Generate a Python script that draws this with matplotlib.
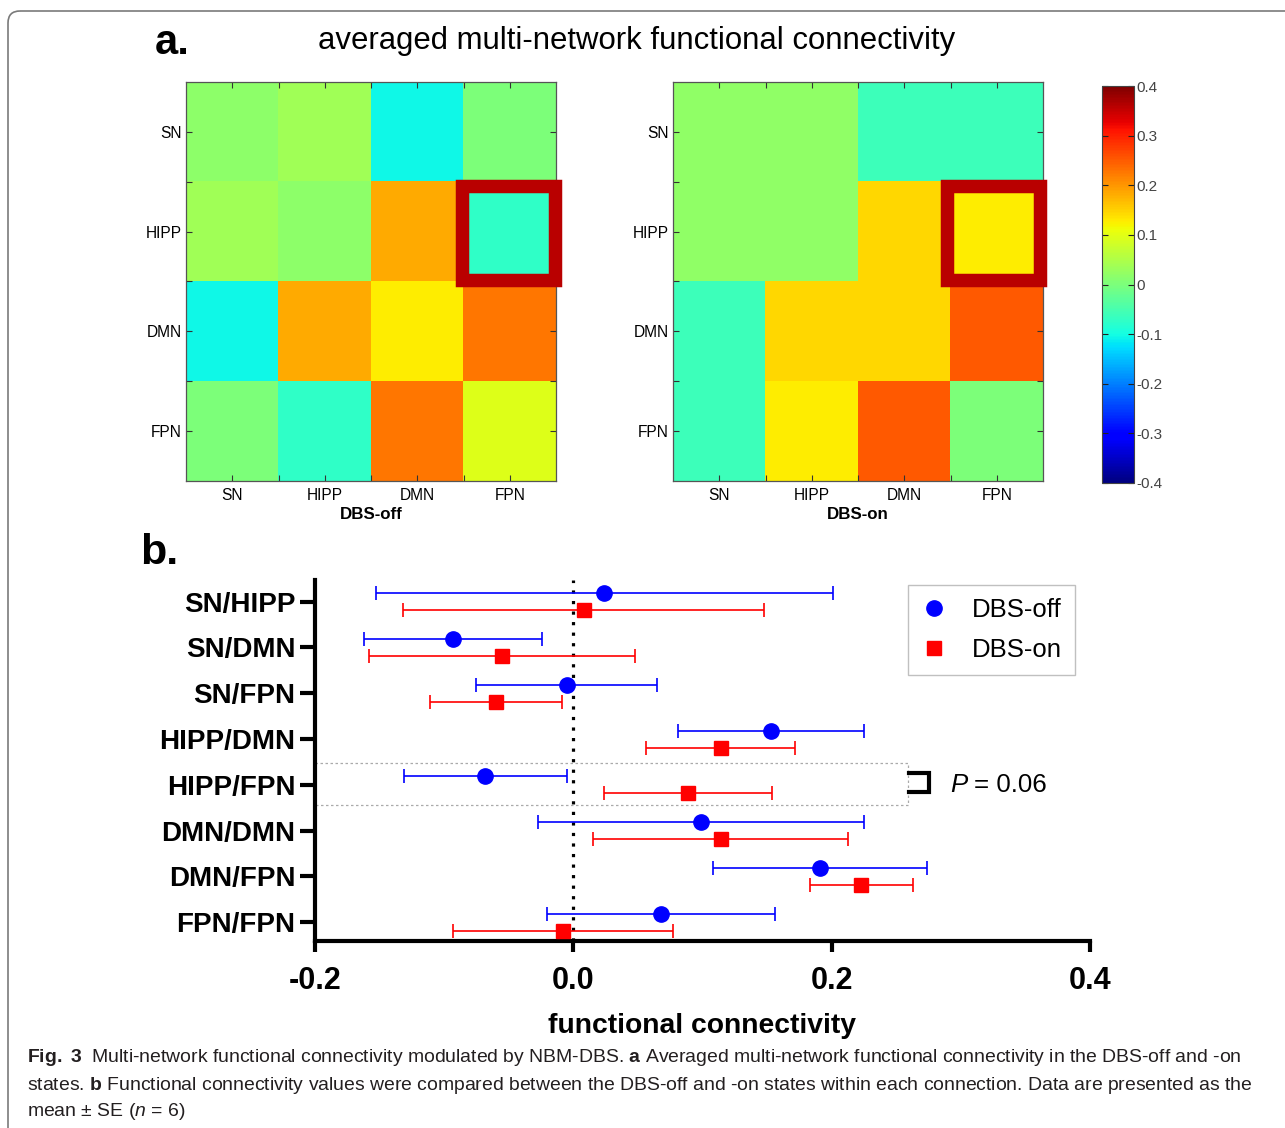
import numpy as np
import matplotlib
matplotlib.use('Agg')
import matplotlib.pyplot as plt
from matplotlib.patches import Rectangle, FancyBboxPatch
from matplotlib.lines import Line2D
from matplotlib import font_manager as fm

# ---------------- data ----------------
networks = ['SN', 'HIPP', 'DMN', 'FPN']
fc_off = [[0.016, 0.036, -0.105, 0.000],
          [0.036, 0.016, 0.184, -0.074],
          [-0.105, 0.184, 0.126, 0.226],
          [0.000, -0.074, 0.226, 0.095]]
fc_on = [[0.020, 0.020, -0.060, -0.060],
         [0.020, 0.020, 0.145, 0.126],
         [-0.060, 0.145, 0.145, 0.250],
         [-0.060, 0.126, 0.250, 0.000]]
cbar_ticks = [-0.4, -0.3, -0.2, -0.1, 0.0, 0.1, 0.2, 0.3, 0.4]
cbar_labels = ['-0.4', '-0.3', '-0.2', '-0.1', '0', '0.1', '0.2', '0.3', '0.4']

connections = ['SN/HIPP', 'SN/DMN', 'SN/FPN', 'HIPP/DMN',
               'HIPP/FPN', 'DMN/DMN', 'DMN/FPN', 'FPN/FPN']
off_mean = [0.024, -0.093, -0.005, 0.153, -0.068, 0.099, 0.191, 0.068]
off_se = [0.177, 0.069, 0.070, 0.072, 0.063, 0.126, 0.083, 0.088]
on_mean = [0.008, -0.055, -0.060, 0.114, 0.089, 0.114, 0.223, -0.008]
on_se = [0.140, 0.103, 0.051, 0.058, 0.065, 0.099, 0.040, 0.085]
xticks_b = [-0.2, 0.0, 0.2, 0.4]
xticklabels_b = ['-0.2', '0.0', '0.2', '0.4']
p_text = '0.06'

# ---------------- fonts ----------------
names = {f.name for f in fm.fontManager.ttflist}
REG = 'Liberation Sans' if 'Liberation Sans' in names else 'DejaVu Sans'
NAR = 'Liberation Sans Narrow' if 'Liberation Sans Narrow' in names else REG
plt.rcParams['font.family'] = REG
plt.rcParams['mathtext.fontset'] = 'custom'
plt.rcParams['mathtext.rm'] = NAR
plt.rcParams['mathtext.bf'] = NAR + ':bold'
plt.rcParams['mathtext.it'] = NAR + ':italic'

W, H = 1285, 1128
fig = plt.figure(figsize=(W / 100, H / 100), dpi=100)
fig.patch.set_facecolor('white')


def px_axes(x0, y0, x1, y1):
    return fig.add_axes([x0 / W, 1 - y1 / H, (x1 - x0) / W, (y1 - y0) / H])


def fit(t, target):
    r = fig.canvas.get_renderer()
    w = t.get_window_extent(r).width
    t.set_fontsize(t.get_fontsize() * target / w)


# ---------------- heatmaps ----------------
def heat(ax, data, xlabel, x_rect):
    im = ax.imshow(np.array(data), cmap='jet', vmin=-0.4, vmax=0.4,
                   aspect='auto', interpolation='nearest')
    ax.set_xticks(range(4))
    ax.set_yticks(range(4))
    ax.set_xticklabels(networks, fontsize=11.2)
    ax.set_yticklabels(networks, fontsize=11.2)
    ax.set_xticks([0.5, 1.5, 2.5], minor=True)
    ax.set_yticks([0.5, 1.5, 2.5], minor=True)
    ax.tick_params(which='both', direction='in', length=4, width=0.8,
                   top=True, right=True, color='#333333')
    ax.tick_params(axis='x', pad=5)
    ax.tick_params(axis='y', pad=3)
    ax.set_xlabel(xlabel, fontsize=12.2, fontweight='bold', labelpad=3)
    for s in ax.spines.values():
        s.set_color('#555555')
        s.set_linewidth(0.9)
    r = Rectangle((x_rect[0], 0.545), x_rect[1] - x_rect[0], 0.94,
                  fill=False, ec='#b90000', lw=9.7, clip_on=False,
                  joinstyle='miter', zorder=5)
    ax.add_patch(r)
    return im


ax1 = px_axes(186, 82, 556, 481)
im = heat(ax1, fc_off, 'DBS-off', (2.485, 3.49))
ax2 = px_axes(673, 82, 1043, 481)
heat(ax2, fc_on, 'DBS-on', (2.459, 3.468))

cax = px_axes(1102, 86, 1134, 483)
cb = fig.colorbar(im, cax=cax)
cb.set_ticks(cbar_ticks)
cb.set_ticklabels(cbar_labels)
cax.tick_params(direction='in', left=True, right=True, length=4, width=0.8,
                labelsize=11, pad=2, labelcolor='#444444', color='#222222')
cb.outline.set_linewidth(0.8)
cb.outline.set_edgecolor('#444444')

# ---------------- panel b ----------------
ax = px_axes(315, 580, 1090, 941)
ax.set_facecolor('none')
ypos = np.arange(len(connections))
off_y = ypos - 0.185
on_y = ypos + 0.185

ax.axvline(0, color='black', lw=2.3, linestyle=(0, (1, 2.3)), zorder=1)
ax.errorbar(off_mean, off_y, xerr=off_se, fmt='o', color='#0000ff', ms=11,
            capsize=5.3, elinewidth=1.2, capthick=1.2, zorder=3, clip_on=False)
ax.errorbar(on_mean, on_y, xerr=on_se, fmt='s', color='#ff0000', ms=10.5,
            capsize=5.3, elinewidth=1.2, capthick=1.2, zorder=3, clip_on=False)

ax.add_patch(Rectangle((-0.2, 3.513), 0.459, 0.93, fill=False, ec='#aaaaaa',
                       lw=0.9, ls=(0, (2, 2)), clip_on=False, zorder=2))
ax.plot([0.2596, 0.2751, 0.2751, 0.2596], [3.74, 3.74, 4.16, 4.16],
        color='black', lw=3, clip_on=False, solid_joinstyle='miter')

ax.set_xlim(-0.2, 0.4)
ax.set_ylim(7.41, -0.474)
ax.set_yticks(ypos)
ax.set_yticklabels(connections, fontsize=20, fontweight='bold')
ax.set_xticks(xticks_b)
ax.set_xticklabels(xticklabels_b, fontsize=22, fontweight='bold', family=NAR)
ax.tick_params(axis='y', length=11, width=3, pad=3)
ax.tick_params(axis='x', length=8, width=3, pad=10)
for s in ['top', 'right']:
    ax.spines[s].set_visible(False)
for s in ['left', 'bottom']:
    ax.spines[s].set_linewidth(3)
xl = ax.set_xlabel('functional connectivity', fontsize=23, fontweight='bold',
                   family=NAR, labelpad=12)

handles = [Line2D([], [], marker='o', color='#0000ff', ls='none', ms=11),
           Line2D([], [], marker='s', color='#ff0000', ls='none', ms=10.5)]
leg = ax.legend(handles, ['DBS-off', 'DBS-on'], loc='upper left',
                bbox_to_anchor=(908 / W, 1 - 585 / H),
                bbox_transform=fig.transFigure, frameon=True, fancybox=False,
                edgecolor='#c0c0c0', framealpha=1, fontsize=18.5,
                borderpad=0.5, labelspacing=0.62, handlelength=1.0,
                handletextpad=1.0, borderaxespad=0)
leg.get_frame().set_linewidth(1.0)

# ---------------- overlay in pixel coordinates ----------------
bg = fig.add_axes([0, 0, 1, 1])
bg.set_xlim(0, W)
bg.set_ylim(H, 0)
bg.axis('off')
bg.patch.set_visible(False)
bg.set_zorder(10)
bg.add_patch(FancyBboxPatch((8, 11), 1320, 1160,
                            boxstyle='round,pad=0,rounding_size=12',
                            fc='none', ec='#7a7a7a', lw=1.2))

bg.text(155, 43, 'a.', fontsize=30, fontweight='bold', va='center', ha='left')
bg.text(140, 553, 'b.', fontsize=31, fontweight='bold', va='center', ha='left')
title = bg.text(637, 41, 'averaged multi-network functional connectivity',
                fontsize=26, family=NAR, va='center', ha='center')

r = fig.canvas.get_renderer()
tp = bg.text(950, 785, 'P', fontsize=18.6, style='italic', va='center', ha='left')
wp = tp.get_window_extent(r).width
bg.text(950 + wp + 7, 785, '= ' + p_text, fontsize=18.6, va='center', ha='left')

cap_color = '#231f20'
L1 = (r"$\mathbf{Fig.\ 3}$  Multi-network functional connectivity modulated by NBM-DBS. "
      r"$\mathbf{a}$ Averaged multi-network functional connectivity in the DBS-off and -on")
L2 = (r"states. $\mathbf{b}$ Functional connectivity values were compared between the "
      r"DBS-off and -on states within each connection. Data are presented as the")
L3 = r"mean ± SE ($\mathit{n}$ = 6)"
t1 = bg.text(27, 1058, L1, fontsize=15, va='center', ha='left', family=NAR, color=cap_color)
fit(t1, 1218)
cs = t1.get_fontsize()
bg.text(27, 1085, L2, fontsize=cs, va='center', ha='left', family=NAR, color=cap_color)
bg.text(27, 1111, L3, fontsize=cs, va='center', ha='left', family=NAR, color=cap_color)

fit(title, 636)
fit(xl, 307)

fig.savefig('out.png', dpi=100)
